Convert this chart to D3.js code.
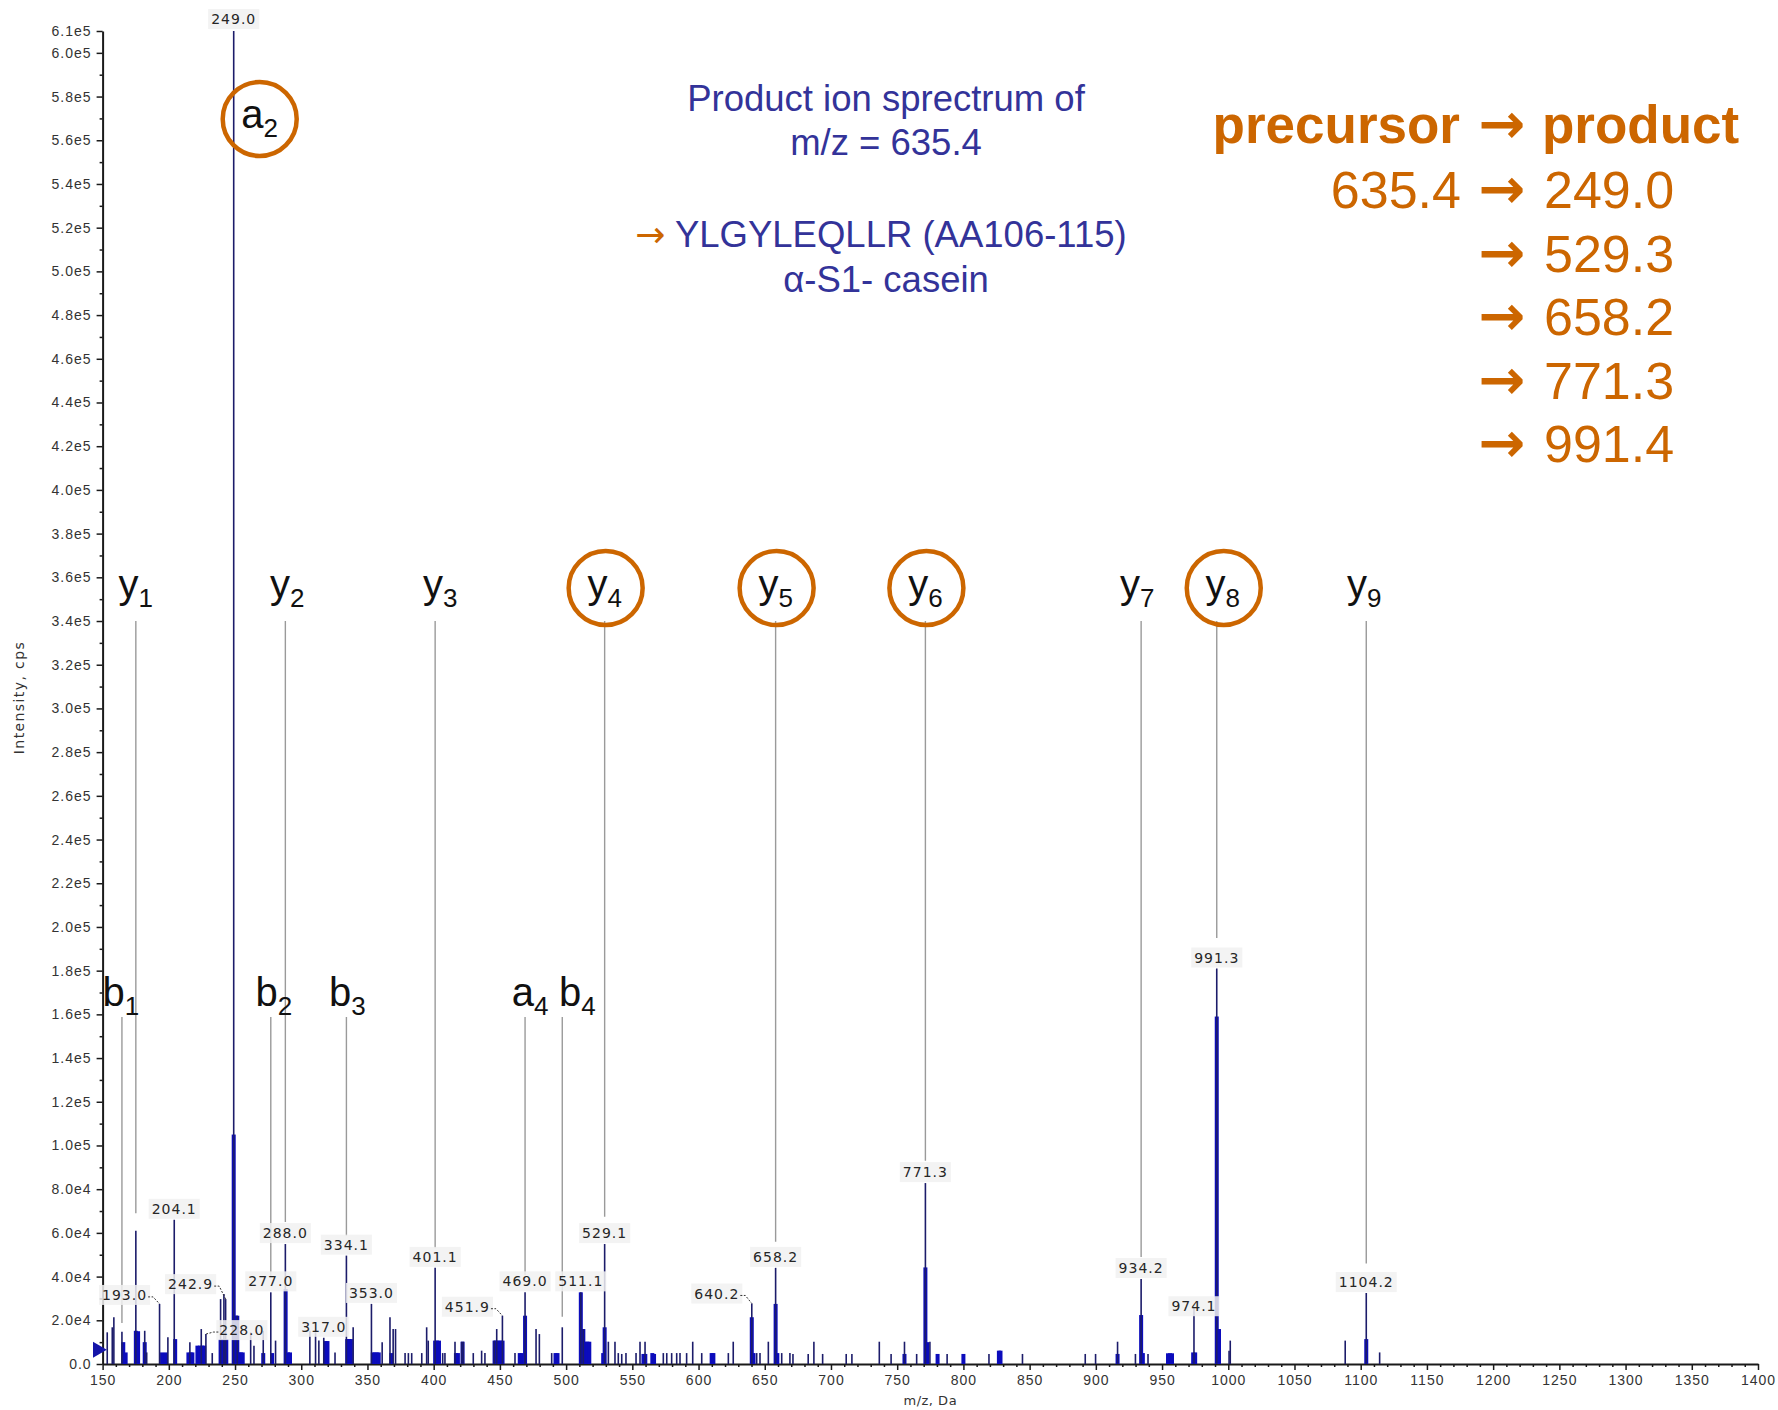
<!DOCTYPE html>
<html>
<head>
<meta charset="utf-8">
<script src="https://cdn.jsdelivr.net/npm/d3@7"></script>
<style>
  html, body { margin: 0; padding: 0; background: #ffffff; }
  svg { display: block; }
</style>
</head>
<body>
<svg id="chart" width="1778" height="1410"></svg>
<script>
// ---------------- spectrum data (m/z in Da, intensity in cps) ----------------

// peaks carrying an m/z label
const labelMz  = [249.0, 204.1, 193.0, 242.9, 228.0, 277.0, 288.0, 317.0, 334.1, 353.0, 401.1,
                  451.9, 469.0, 511.1, 529.1, 640.2, 658.2, 771.3, 934.2, 974.1, 991.3, 1104.2];
const labelInt = [610000, 66000, 27500, 29700, 13700, 32800, 54900, 12000, 49600, 27500, 44000,
                  22100, 32800, 32800, 54900, 27700, 44000, 82800, 38900, 26000, 181000, 32500];

// remaining centroid sticks
const stickMz = [153.5, 157.3, 158.5, 164.6, 175.1, 181.8, 183.3, 199.3, 215.9, 224.5, 232.8,
                 239.1, 241.6, 251.7, 261.8, 264.3, 271.3, 280.6, 306.5, 310.8, 313.3, 325.5,
                 339.2, 361.1, 367.0, 369.4, 371.2, 378.4, 380.9, 383.4, 391.0, 394.7, 395.9,
                 406.8, 408.5, 416.1, 421.2, 422.4, 429.9, 436.2, 438.7, 445.8, 447.6, 461.4,
                 477.3, 479.8, 489.1, 497.1, 513.0, 531.9, 536.9, 539.4, 542.0, 545.2, 552.8,
                 555.8, 559.6, 573.4, 576.0, 579.7, 583.5, 586.0, 591.0, 595.6, 602.4, 622.5,
                 626.2, 643.9, 646.4, 652.7, 662.8, 669.0, 671.3, 682.8, 687.1, 693.7, 711.5,
                 715.8, 736.5, 745.4, 755.5, 764.7, 774.7, 787.7, 819.3, 844.6, 892.0, 899.8,
                 916.4, 929.9, 939.4, 1000.6, 1001.5, 1088.3, 1114.3];
const stickInt = [14500, 16800, 21400, 14800, 61000, 15200, 5300, 12200, 9900, 16000, 5000,
                  29700, 32000, 22100, 14500, 8400, 15200, 10700, 15200, 14500, 10700, 5300,
                  16800, 9900, 21400, 16000, 16000, 5000, 5000, 5000, 5000, 16800, 10700,
                  5000, 5000, 10200, 10200, 10200, 5000, 6100, 5000, 10700, 16000, 5000,
                  16000, 13700, 5000, 16800, 16000, 10200, 10200, 5000, 4600, 5000, 5000,
                  10200, 10200, 5000, 5000, 5000, 5000, 5000, 5000, 10200, 5000, 5000,
                  10200, 5000, 5000, 10200, 5000, 5000, 4600, 4600, 10200, 4600, 4600,
                  4600, 10200, 4600, 10200, 4600, 10200, 4600, 4600, 4600, 4600, 4600,
                  10200, 4600, 4600, 6100, 10700, 10700, 5300];

// profile (blue) blocks underneath the sticks
const profileMz = [165.6, 167.4, 175.1, 176.8, 181.8, 194.9, 197.8, 204.8, 214.8, 216.5, 217.8,
                   221.6, 223.4, 225.2, 226.7, 239.1, 240.5, 242.0, 243.4, 249.0, 250.3, 251.7,
                   253.0, 254.4, 255.8, 271.3, 278.0, 288.2, 290.0, 291.5, 318.4, 319.8, 334.7,
                   336.1, 337.5, 354.0, 355.5, 357.0, 358.5, 368.0, 401.1, 402.5, 404.0, 416.8,
                   418.3, 421.8, 446.0, 447.5, 449.0, 450.5, 452.0, 465.0, 466.5, 469.0, 492.0,
                   493.5, 511.1, 513.0, 514.5, 516.0, 517.5, 528.0, 529.1, 558.4, 559.8, 565.1,
                   566.4, 609.9, 611.2, 640.2, 641.5, 658.2, 659.5, 755.5, 771.3, 772.6, 780.5,
                   800.0, 826.8, 828.0, 916.4, 934.2, 935.5, 954.5, 956.0, 957.5, 973.5, 975.0,
                   991.3, 993.0, 1104.2];
const profileInt = [10000, 5300, 15200, 15000, 10000, 5300, 5300, 11400, 5300, 5300, 5300,
                    8400, 8400, 8400, 8400, 11400, 11400, 11400, 11400, 105000, 22100, 22100,
                    5300, 5300, 5300, 5000, 5000, 34300, 5300, 5300, 10500, 10500, 11400,
                    11400, 11400, 5300, 5300, 5300, 5300, 5000, 10700, 10700, 10700, 5000,
                    5000, 10200, 10700, 10700, 10700, 10700, 10700, 5000, 5000, 22100, 5000,
                    5000, 32800, 16000, 10200, 10200, 10200, 5000, 16800, 4600, 4600, 5000,
                    4600, 5000, 5000, 21400, 5000, 27500, 5000, 4600, 44200, 10000, 4600,
                    4600, 6100, 6100, 4600, 22400, 5000, 4900, 4900, 4900, 5300, 5300,
                    159000, 16000, 11400];

// fragment-ion annotations: letter, index, m/z of the guide line, intensity where it stops
const ionLetter = ["b", "y", "b", "y", "b", "y", "a", "b", "y", "y", "y", "y", "y", "y"];
const ionIndex  = [1, 1, 2, 2, 3, 3, 4, 4, 4, 5, 6, 7, 8, 9];
const ionMz     = [164.6, 175.1, 277.0, 288.0, 334.1, 401.1, 469.0, 497.1, 529.1, 658.2, 771.3, 934.2, 991.3, 1104.2];
const ionEnd    = [18800, 69000, 40000, 65000, 58600, 53000, 40700, 21600, 67400, 56000, 93000, 49000, 195000, 46000];
const ionCircled = ["y4", "y5", "y6", "y8"];

// the a2 ion marks the base peak itself
const a2Mz = 249.0;

// transitions used for quantification
const precursorMz = "635.4";
const productMz = ["249.0", "529.3", "658.2", "771.3", "991.4"];

// axis ticks
const xMajor = d3.range(150, 1401, 50);
const xMinor = d3.range(150, 1401, 10).filter(v => v % 50 !== 0);
const yMajor = d3.range(0, 600001, 20000).concat([610000]);
const yMinor = d3.range(10000, 600000, 20000);
const markerInt = 6500;

// ---------------- drawing ----------------
const svg = d3.select("#chart");
const ORANGE = "#cc6600";
const NAVY_TEXT = "#333399";
const SMALL_FONT = "'DejaVu Sans', Verdana, sans-serif";
const MAIN_FONT = "'Liberation Sans', Arial, Helvetica, sans-serif";
const ARROW_FONT = "'DejaVu Sans', sans-serif";

const x = d3.scaleLinear().domain([150, 1400]).range([102.6, 1758]);
const y = d3.scaleLinear().domain([0, 610000]).range([1364, 31]);

function fmtY(v) {
  if (v === 0) return "0.0";
  const e = Math.floor(Math.log10(v) + 1e-9);
  return (v / Math.pow(10, e)).toFixed(1) + "e" + e;
}

// ---- fragment guide lines (behind the spectrum) ----
const yRowBase = 598, bRowBase = 1006;
const yRowLineTop = 621, bRowLineTop = 1017;
const ionDx = [-1, 0, 3, 2, 1, 5, 5, 15, 0, 0, 0, -4, 6, -2];

const guides = svg.append("g");
ionMz.forEach((mz, i) => {
  const top = ionLetter[i] === "y" ? yRowLineTop : bRowLineTop;
  guides.append("line")
    .attr("x1", x(mz)).attr("x2", x(mz))
    .attr("y1", top).attr("y2", y(ionEnd[i]))
    .attr("stroke", "#9a9a9a").attr("stroke-width", 1.4);
});

// ---- axes ----
const axisG = svg.append("g").attr("font-family", SMALL_FONT);

const yAxis = d3.axisLeft(y).tickValues(yMajor).tickFormat(fmtY)
  .tickSize(6).tickPadding(5).tickSizeOuter(0);
const yAxisG = axisG.append("g").attr("transform", `translate(${x(150)},0)`).call(yAxis);
yAxisG.append("g").call(d3.axisLeft(y).tickValues(yMinor).tickFormat("").tickSize(3).tickSizeOuter(0))
  .select(".domain").remove();

const xAxis = d3.axisBottom(x).tickValues(xMajor).tickFormat(d3.format("d"))
  .tickSize(6).tickPadding(5).tickSizeOuter(0);
const xAxisG = axisG.append("g").attr("transform", `translate(0,${y(0)})`).call(xAxis);
xAxisG.append("g").call(d3.axisBottom(x).tickValues(xMinor).tickFormat("").tickSize(3).tickSizeOuter(0))
  .select(".domain").remove();

axisG.selectAll(".domain").attr("stroke", "#1a1a1a").attr("stroke-width", 2);
axisG.selectAll(".tick line").attr("stroke", "#1a1a1a").attr("stroke-width", 1.5);
axisG.selectAll(".tick text")
  .attr("font-size", 14).attr("fill", "#333").attr("letter-spacing", "1px");

svg.append("text")
  .attr("transform", `translate(24,${(y(0) + y(610000)) / 2 + 0}) rotate(-90)`)
  .attr("text-anchor", "middle")
  .attr("font-family", SMALL_FONT).attr("font-size", 14).attr("letter-spacing", "1.4px")
  .attr("fill", "#333")
  .text("Intensity, cps");

svg.append("text")
  .attr("x", (x(150) + x(1400)) / 2).attr("y", 1405)
  .attr("text-anchor", "middle")
  .attr("font-family", SMALL_FONT).attr("font-size", 13).attr("letter-spacing", "0.5px")
  .attr("fill", "#333")
  .text("m/z, Da");

// ---- spectrum ----
const spec = svg.append("g");
const BAR_W = 4;
spec.selectAll("rect.profile")
  .data(profileMz.map((m, i) => ({ mz: m, v: profileInt[i] })))
  .join("rect").attr("class", "profile")
  .attr("x", d => x(d.mz) - BAR_W / 2).attr("width", BAR_W)
  .attr("y", d => y(d.v)).attr("height", d => y(0) - y(d.v))
  .attr("fill", "#0c0cbc");

const sticks = stickMz.map((m, i) => ({ mz: m, v: stickInt[i] }))
  .concat(labelMz.map((m, i) => ({ mz: m, v: labelInt[i] })));
spec.selectAll("line.stick")
  .data(sticks)
  .join("line").attr("class", "stick")
  .attr("x1", d => x(d.mz)).attr("x2", d => x(d.mz))
  .attr("y1", y(0)).attr("y2", d => y(d.v))
  .attr("stroke", "#1c1c6a").attr("stroke-width", 1.6);

// precursor marker on the y axis
svg.append("path")
  .attr("d", d3.symbol(d3.symbolTriangle, 110)())
  .attr("transform", `translate(${x(150) - 5},${y(markerInt)}) rotate(90)`)
  .attr("fill", "#1414a8");

// ---- peak labels ----
const labelShift = { "193.0": [-35, 2], "242.9": [-35, -4], "228.0": [36, 7], "451.9": [-35, 2],
                     "640.2": [-35, 1], "974.1": [0, 10], "249.0": [0, -1] };
const labG = svg.append("g").attr("font-family", SMALL_FONT);
labelMz.forEach((mz, i) => {
  const txt = mz.toFixed(1);
  const px = x(mz), top = y(labelInt[i]);
  const sh = labelShift[txt] || [0, 0];
  const cx = px + sh[0], cy = top - 11 + sh[1];
  const g = labG.append("g");
  const t = g.append("text")
    .attr("x", cx).attr("y", cy).attr("dy", "0.36em")
    .attr("text-anchor", "middle")
    .attr("font-size", 14).attr("letter-spacing", "1px").attr("fill", "#262626")
    .text(txt);
  const bb = t.node().getBBox();
  g.insert("rect", "text")
    .attr("x", bb.x - 3).attr("y", bb.y - 2)
    .attr("width", bb.width + 6).attr("height", bb.height + 4)
    .attr("fill", "#f1f1f1").attr("opacity", 0.85);
  if (sh[0] !== 0) {
    const dir = sh[0] < 0 ? 1 : -1;
    const sx = dir > 0 ? bb.x + bb.width + 1 : bb.x - 1;
    const sy = cy + 2;
    labG.append("path")
      .attr("d", `M${sx},${sy} L${sx + dir * 5},${sy} L${px},${top}`)
      .attr("fill", "none").attr("stroke", "#333").attr("stroke-width", 1)
      .attr("stroke-dasharray", "2,1.5");
  }
});

// ---- fragment ion names ----
function ionText(parent, cx, base, letter, idx) {
  const t = parent.append("text")
    .attr("x", cx).attr("y", base)
    .attr("text-anchor", "middle")
    .attr("font-family", MAIN_FONT).attr("font-size", 40).attr("fill", "#111");
  t.append("tspan").text(letter);
  t.append("tspan").attr("font-size", 26).attr("dy", 9).text(idx);
  return t;
}
const ionG = svg.append("g");
ionMz.forEach((mz, i) => {
  const base = ionLetter[i] === "y" ? yRowBase : bRowBase;
  const cx = x(mz) + ionDx[i];
  ionText(ionG, cx, base, ionLetter[i], ionIndex[i]);
  if (ionCircled.includes(ionLetter[i] + ionIndex[i])) {
    ionG.append("circle")
      .attr("cx", cx + 1).attr("cy", base - 10).attr("r", 37)
      .attr("fill", "none").attr("stroke", ORANGE).attr("stroke-width", 4.5);
  }
});
// a2 sits beside the base peak near the top of the plot
const a2x = x(a2Mz) + 26, a2base = 128;
ionText(ionG, a2x, a2base, "a", 2);
ionG.append("circle")
  .attr("cx", a2x).attr("cy", a2base - 9).attr("r", 37)
  .attr("fill", "none").attr("stroke", ORANGE).attr("stroke-width", 4.5);

// ---- title block ----
const title = svg.append("g").attr("font-family", MAIN_FONT).attr("font-size", 36.5)
  .attr("fill", NAVY_TEXT).attr("text-anchor", "middle");
title.append("text").attr("x", 886).attr("y", 111).text("Product ion sprectrum of");
title.append("text").attr("x", 886).attr("y", 155).text("m/z = " + precursorMz);
const pep = title.append("text").attr("x", 881).attr("y", 247);
pep.append("tspan").attr("fill", ORANGE).attr("font-family", ARROW_FONT).attr("font-size", 36)
  .text("→");
pep.append("tspan").text(" YLGYLEQLLR (AA106-115)");
title.append("text").attr("x", 886).attr("y", 292).text("α-S1- casein");

// ---- transition list ----
const trans = svg.append("g").attr("font-family", MAIN_FONT).attr("fill", ORANGE);
const arrowX = 1502, leftX = 1460, rightX = 1544;
function arrow(base) {
  trans.append("text").attr("x", arrowX).attr("y", base).attr("text-anchor", "middle")
    .attr("font-family", ARROW_FONT).attr("font-size", 56).attr("font-weight", "bold")
    .text("→");
}
trans.append("text").attr("x", leftX).attr("y", 143).attr("text-anchor", "end")
  .attr("font-size", 53).attr("font-weight", "bold").text("precursor");
arrow(143);
trans.append("text").attr("x", rightX - 2).attr("y", 143).attr("text-anchor", "start")
  .attr("font-size", 53).attr("font-weight", "bold").text("product");

productMz.forEach((p, i) => {
  const base = 208 + i * 63.6;
  if (i === 0) {
    trans.append("text").attr("x", leftX + 1).attr("y", base).attr("text-anchor", "end")
      .attr("font-size", 52).text(precursorMz);
  }
  arrow(base);
  trans.append("text").attr("x", rightX).attr("y", base).attr("text-anchor", "start")
    .attr("font-size", 52).text(p);
});
</script>
</body>
</html>
